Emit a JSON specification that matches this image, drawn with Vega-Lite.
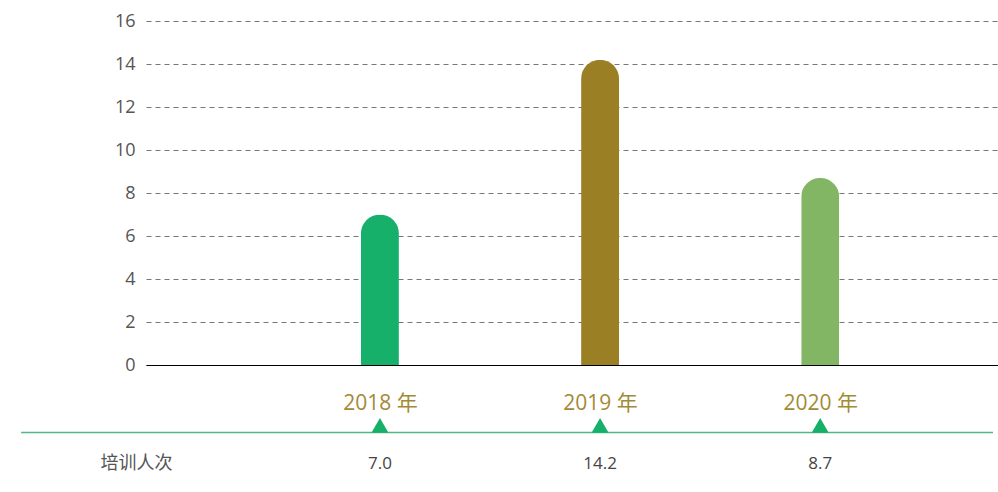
{
  "$schema": "https://vega.github.io/schema/vega-lite/v6.json",
  "width": 852,
  "height": 344,
  "autosize": {"type": "none"},
  "padding": {"left": 146, "top": 21, "right": 0, "bottom": 127},
  "background": "white",
  "config": {
    "view": {"stroke": null},
    "font": "Open Sans, Noto Sans CJK SC",
    "axis": {"labelFont": "Open Sans, Noto Sans CJK SC"}
  },
  "data": {
    "values": [
      {"year": 2018, "value": 7.0},
      {"year": 2019, "value": 14.2},
      {"year": 2020, "value": 8.7}
    ]
  },
  "layer": [
    {
      "mark": {"type": "bar", "size": 38, "cornerRadiusTopLeft": 19, "cornerRadiusTopRight": 19},
      "encoding": {
        "x": {
          "field": "year",
          "type": "quantitative",
          "scale": {"domain": [2016.96, 2020.785], "nice": false, "zero": false},
          "axis": {
            "values": [2018, 2019, 2020],
            "labelExpr": "format(datum.value, 'd') + ' 年'",
            "title": null,
            "grid": false,
            "ticks": false,
            "domainColor": "#000000",
            "domainWidth": 1,
            "labelColor": "#a38a36",
            "labelFontSize": 21,
            "labelPadding": 27
          }
        },
        "y": {
          "field": "value",
          "type": "quantitative",
          "scale": {"domain": [0, 16], "nice": false},
          "axis": {
            "values": [0, 2, 4, 6, 8, 10, 12, 14, 16],
            "title": null,
            "domain": false,
            "ticks": false,
            "grid": true,
            "gridDash": [5, 4],
            "gridColor": "#777777",
            "gridWidth": 1,
            "labelFontSize": 18,
            "labelColor": "#555555",
            "labelPadding": 11
          }
        },
        "color": {
          "field": "year",
          "type": "nominal",
          "scale": {"domain": [2018, 2019, 2020], "range": ["#16b06a", "#9b7f24", "#82b564"]},
          "legend": null
        }
      }
    },
    {
      "data": {"values": [{"label": "培训人次"}]},
      "mark": {"type": "rule", "color": "#4fb887", "strokeWidth": 1.5},
      "encoding": {
        "x": {"datum": 2016.37, "type": "quantitative"},
        "x2": {"datum": 2020.785},
        "y": {"datum": -3.14, "type": "quantitative"}
      }
    },
    {
      "mark": {"type": "point", "shape": "triangle-up", "filled": true, "opacity": 1, "size": 290, "color": "#16b06a"},
      "encoding": {
        "x": {"field": "year", "type": "quantitative"},
        "y": {"datum": -2.81, "type": "quantitative"}
      }
    },
    {
      "mark": {"type": "text", "fontSize": 17, "color": "#444444", "baseline": "middle", "align": "center"},
      "encoding": {
        "x": {"field": "year", "type": "quantitative"},
        "y": {"datum": -4.59, "type": "quantitative"},
        "text": {"field": "value", "type": "quantitative", "format": ".1f"}
      }
    },
    {
      "data": {"values": [{"label": "培训人次"}]},
      "mark": {"type": "text", "fontSize": 18, "color": "#555555", "baseline": "middle", "align": "center", "font": "Noto Sans CJK SC"},
      "encoding": {
        "x": {"datum": 2016.894, "type": "quantitative"},
        "y": {"datum": -4.59, "type": "quantitative"},
        "text": {"field": "label", "type": "nominal"}
      }
    }
  ]
}
